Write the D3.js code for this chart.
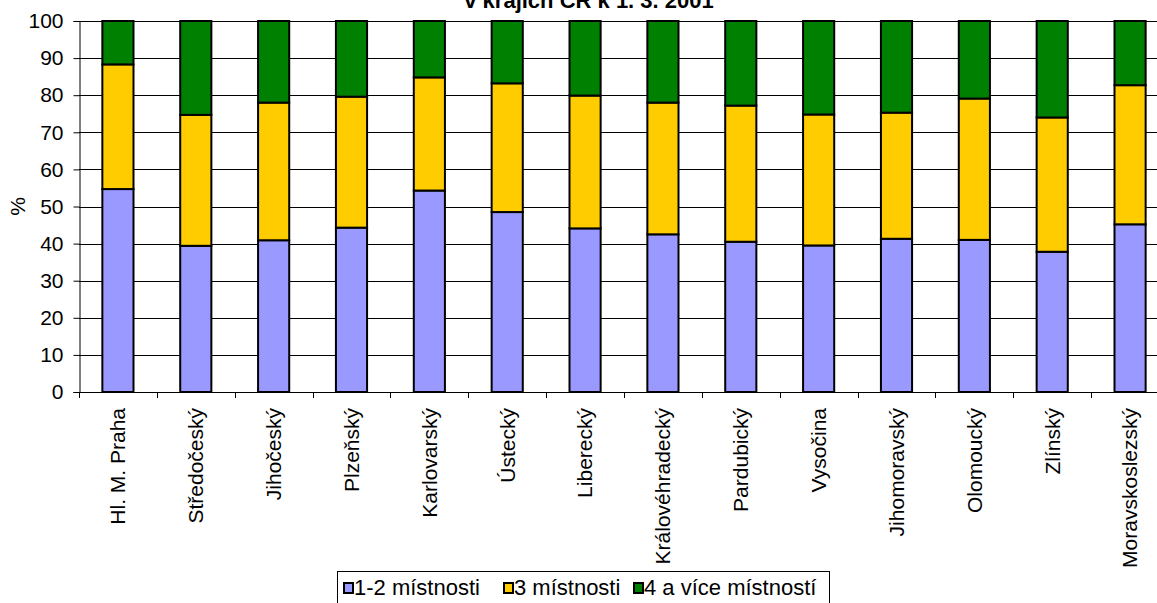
<!DOCTYPE html>
<html>
<head>
<meta charset="utf-8">
<script src="https://cdn.jsdelivr.net/npm/d3@7"></script>
<style>
  html, body { margin: 0; padding: 0; background: #fff; overflow: hidden; }
  svg { display: block; font-family: "Liberation Sans", Arial, sans-serif; }
</style>
</head>
<body>
<svg id="chart" width="1157" height="603"></svg>
<script>
// Regions of the Czech Republic
const categories = [
  "Hl. M. Praha", "Středočeský", "Jihočeský", "Plzeňský", "Karlovarský",
  "Ústecký", "Liberecký", "Královéhradecký", "Pardubický", "Vysočina",
  "Jihomoravský", "Olomoucký", "Zlínský", "Moravskoslezský"
];

// Share of dwellings (%) by number of living rooms
const rooms12 = [54.7, 39.4, 40.9, 44.3, 54.3, 48.5, 44.1, 42.5, 40.5, 39.5, 41.3, 41.0, 37.8, 45.2];
const rooms3  = [33.6, 35.3, 37.1, 35.3, 30.5, 34.7, 35.8, 35.5, 36.7, 35.3, 34.0, 38.1, 36.2, 37.5];
const rooms4p = [11.7, 25.3, 22.0, 20.4, 15.2, 16.8, 20.1, 22.0, 22.8, 25.2, 24.7, 20.9, 26.0, 17.3];

const seriesNames = ["1-2 místnosti", "3 místnosti", "4 a více místností"];
const seriesColors = ["#9999FF", "#FFCC00", "#008000"];
const yTicks = [0, 10, 20, 30, 40, 50, 60, 70, 80, 90, 100];
const titleText = "v krajích ČR k 1. 3. 2001";
const yLabel = "%";

const rows = categories.map((c, i) => ({ cat: c, s0: rooms12[i], s1: rooms3[i], s2: rooms4p[i] }));
const stack = d3.stack().keys(["s0", "s1", "s2"])(rows);

const svg = d3.select("#chart");
const plot = { left: 79, right: 1169, top: 21, bottom: 392 };

const x = d3.scaleBand()
  .domain(categories)
  .range([plot.left, plot.right])
  .paddingInner(0.6)
  .paddingOuter(0.3);

const y = d3.scaleLinear().domain([0, 100]).range([plot.bottom, plot.top]);

// Title (second line of the heading)
svg.append("text")
  .attr("x", 589).attr("y", 8)
  .attr("text-anchor", "middle")
  .attr("font-weight", "bold")
  .attr("font-size", 22)
  .text(titleText);

// Horizontal gridlines
svg.append("g")
  .selectAll("line")
  .data(yTicks)
  .join("line")
  .attr("x1", plot.left).attr("x2", plot.right)
  .attr("y1", d => Math.round(y(d)) + 0.5).attr("y2", d => Math.round(y(d)) + 0.5)
  .attr("stroke", "#000").attr("stroke-width", 1);

// Y axis
const yAxis = d3.axisLeft(y).tickValues(yTicks).tickSize(6).tickPadding(10);
const gy = svg.append("g").attr("transform", `translate(${plot.left + 0.5},0)`).call(yAxis);
gy.select(".domain").attr("stroke", "#000");
gy.selectAll(".tick line").attr("stroke", "#000");
gy.selectAll(".tick text")
  .attr("font-size", 21).attr("fill", "#000")
  .attr("font-family", "'Liberation Sans', Arial, sans-serif");

// Y axis title
svg.append("text")
  .attr("transform", `translate(25,${(plot.top + plot.bottom) / 2}) rotate(-90)`)
  .attr("text-anchor", "middle")
  .attr("font-size", 21)
  .text(yLabel);

// Stacked bars
svg.append("g")
  .selectAll("g")
  .data(stack)
  .join("g")
  .attr("fill", (d, i) => seriesColors[i])
  .selectAll("rect")
  .data(d => d)
  .join("rect")
  .attr("x", d => x(d.data.cat))
  .attr("width", x.bandwidth())
  .attr("y", d => y(d[1]))
  .attr("height", d => y(d[0]) - y(d[1]))
  .attr("stroke", "#000")
  .attr("stroke-width", 2);

// X axis with ticks at the category boundaries
const step = x.step();
const bounds = d3.range(categories.length + 1).map(i => plot.left + i * step);
svg.append("line")
  .attr("x1", plot.left).attr("x2", plot.right)
  .attr("y1", plot.bottom + 0.5).attr("y2", plot.bottom + 0.5)
  .attr("stroke", "#000");
svg.append("g")
  .selectAll("line")
  .data(bounds)
  .join("line")
  .attr("x1", d => Math.round(d) + 0.5).attr("x2", d => Math.round(d) + 0.5)
  .attr("y1", plot.bottom).attr("y2", plot.bottom + 6)
  .attr("stroke", "#000");

// Category labels, rotated
svg.append("g")
  .selectAll("text")
  .data(categories)
  .join("text")
  .attr("transform", d => `translate(${x(d) + x.bandwidth() / 2},408) rotate(-90)`)
  .attr("text-anchor", "end")
  .attr("dy", "0.35em")
  .attr("font-size", 21)
  .text(d => d);

// Legend
const legend = svg.append("g");
legend.append("rect")
  .attr("x", 337.5).attr("y", 571.5)
  .attr("width", 492).attr("height", 40)
  .attr("fill", "#fff").attr("stroke", "#000");
const legendX = [344, 504, 634];
seriesNames.forEach((name, i) => {
  legend.append("rect")
    .attr("x", legendX[i]).attr("y", 583)
    .attr("width", 9).attr("height", 10)
    .attr("fill", seriesColors[i])
    .attr("stroke", "#000").attr("stroke-width", 2);
  legend.append("text")
    .attr("x", legendX[i] + 10).attr("y", 595)
    .attr("font-size", 22)
    .text(name);
});
</script>
</body>
</html>
